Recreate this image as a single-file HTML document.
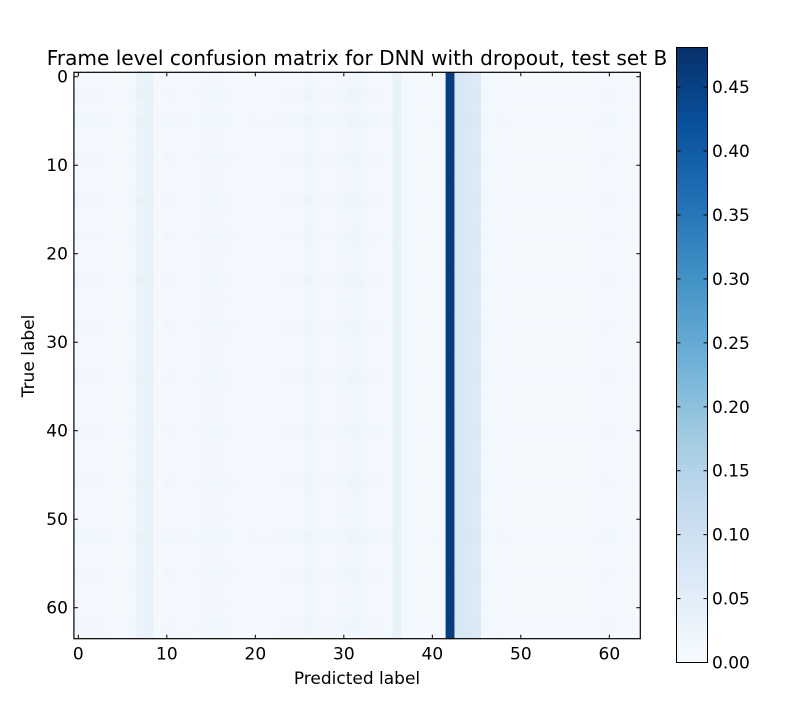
<!DOCTYPE html>
<html><head><meta charset="utf-8"><style>
body{margin:0;background:#fff;}
svg text{font-family:"DejaVu Sans","Liberation Sans",sans-serif;}
</style></head><body>
<svg id="chart" width="800" height="711" xmlns="http://www.w3.org/2000/svg">
<rect width="800" height="711" fill="#fff"/>
<text x="357" y="65" font-size="20.1" text-anchor="middle">Frame level confusion matrix for DNN with dropout, test set B</text>
<g id="cells"></g>
<g id="axes"></g>
<text x="357" y="684" font-size="17" text-anchor="middle">Predicted label</text>
<text x="34" y="356" font-size="17" text-anchor="middle" transform="rotate(-90 34 356)">True label</text>
<defs><linearGradient id="cbg" x1="0" y1="1" x2="0" y2="0"></linearGradient></defs>
<rect x="676.5" y="47.5" width="31" height="615" fill="url(#cbg)" stroke="#000"/>
<g id="cbticks"></g>
</svg>
<script>
const colValues=[0.012,0.01,0.012,0.01,0.008,0.008,0.01,0.03,0.035,0.006,0.012,0.01,0.01,0.008,0.012,0.015,0.014,0.012,0.008,0.008,0.01,0.008,0.01,0.01,0.012,0.012,0.02,0.012,0.01,0.012,0.015,0.02,0.018,0.012,0.012,0.01,0.035,0.008,0.008,0.008,0.008,0.01,0.46,0.075,0.07,0.065,0.01,0.008,0.01,0.008,0.008,0.008,0.008,0.008,0.008,0.008,0.008,0.008,0.008,0.01,0.012,0.008,0.008,0.008];
const rowOffsets=[0,0,0.003,0,0,0.004,0,0,0,0.002,0,0,0,0,0.003,0,0,0,0.002,0,0,0,0,0.003,0,0,0,0,0.002,0,0,0,0,0,0.003,0,0,0,0,0,0.002,0,0,0,0,0,0.003,0,0,0,0,0,0.004,0,0,0,0.002,0,0,0,0,0,0.002,0];
const axisTicks=[0,10,20,30,40,50,60];
const cbTicks=[0,0.05,0.1,0.15,0.2,0.25,0.3,0.35,0.4,0.45];
const vmax=0.481;
const N=64,L=73.9,T=72.3,S=566.4/64;
const stops=["#f7fbff","#deebf7","#c6dbef","#9ecae1","#6baed6","#4292c6","#2171b5","#08519c","#08306b"];
function hex(h){return [1,3,5].map(i=>parseInt(h.substr(i,2),16));}
function cmap(v){let t=Math.max(0,Math.min(1,v/vmax))*8;let i=Math.min(7,Math.floor(t));let f=t-i;let a=hex(stops[i]),b=hex(stops[i+1]);return 'rgb('+a.map((x,k)=>Math.round(x+(b[k]-x)*f)).join(',')+')';}
const xs=i=>L+i*S, ys=i=>T+i*S;
const NS="http://www.w3.org/2000/svg";
const cells=document.getElementById('cells');
for(let r=0;r<N;r++)for(let c=0;c<N;c++){
 const e=document.createElementNS(NS,'rect');
 e.setAttribute('x',xs(c));e.setAttribute('y',ys(r));e.setAttribute('width',S+0.4);e.setAttribute('height',S+0.4);
 e.setAttribute('fill',cmap(colValues[c]+(c===42?0:rowOffsets[r])));
 
 
 cells.appendChild(e);
}
const ax=document.getElementById('axes');let h='';
const R=L+N*S,B=T+N*S;
h+=`<rect x="${L}" y="${T}" width="${N*S}" height="${N*S}" fill="none" stroke="#000" stroke-width="1.2"/>`;
axisTicks.forEach(t=>{const x=xs(t+0.5),y=ys(t+0.5);
 h+=`<line x1="${x}" y1="${B}" x2="${x}" y2="${B-4}" stroke="#000"/><line x1="${x}" y1="${T}" x2="${x}" y2="${T+4}" stroke="#000"/>`;
 h+=`<line x1="${L}" y1="${y}" x2="${L+4}" y2="${y}" stroke="#000"/><line x1="${R}" y1="${y}" x2="${R-4}" y2="${y}" stroke="#000"/>`;
 h+=`<text x="${x}" y="${B+21}" font-size="17" text-anchor="middle">${t}</text>`;
 h+=`<text x="${L-6}" y="${y+6}" font-size="17" text-anchor="end">${t}</text>`;});
ax.innerHTML=h;
const g=document.getElementById('cbg');
stops.forEach((s,i)=>{const st=document.createElementNS(NS,'stop');st.setAttribute('offset',i/8);st.setAttribute('stop-color',s);g.appendChild(st);});
const cb=document.getElementById('cbticks');let hc='';
cbTicks.forEach(t=>{const y=662.5-t/vmax*615;
 hc+=`<line x1="676.5" y1="${y}" x2="680.5" y2="${y}" stroke="#000"/><line x1="707.5" y1="${y}" x2="703.5" y2="${y}" stroke="#000"/>`;
 hc+=`<text x="712" y="${y+6}" font-size="17">${t.toFixed(2)}</text>`;});
cb.innerHTML=hc;
</script>
</body></html>
